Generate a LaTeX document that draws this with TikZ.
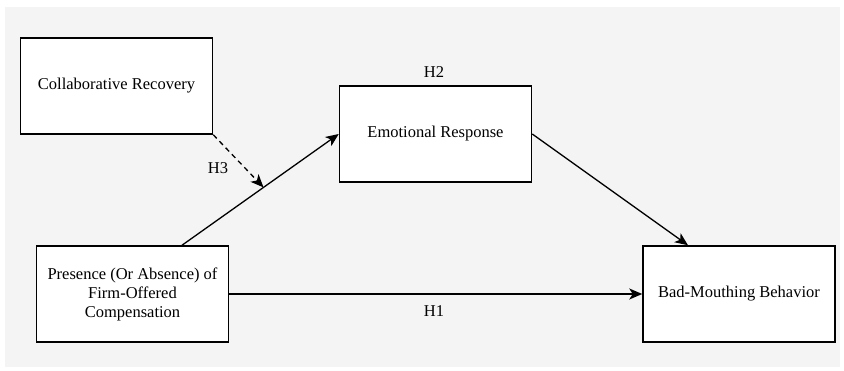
\documentclass[tikz,border=0pt]{standalone}
\usepackage{fontspec}
\setmainfont{Liberation Serif}
\usetikzlibrary{arrows.meta,positioning}
\definecolor{panelgray}{HTML}{F4F4F4}
\begin{document}
\begin{tikzpicture}[
    x=1pt,
    y=-1pt,
    font=\fontsize{16.5}{19}\selectfont,
    construct/.style={draw, line width=1.5pt, fill=white, minimum width=192pt, minimum height=96pt, align=center, inner sep=2pt},
    path/.style={line width=1.3pt, -{Stealth[length=13pt, width=11pt, inset=3.5pt]}},
    hyp/.style={inner sep=1pt}
]
\useasboundingbox (0,0) rectangle (844,371);
\fill[panelgray] (5,7) rectangle (840,367);

\node[construct] (recovery) at (116.5,86) {Collaborative Recovery};
\node[construct] (emotion) at (435.5,134) {Emotional Response};
\node[construct] (comp) at (132.5,294) {Presence (Or Absence) of\\Firm-Offered\\Compensation};
\node[construct] (bad) at (739,294) {Bad-Mouthing Behavior};

\draw[path] ([xshift=49.5pt]comp.north) -- coordinate[pos=0.52] (moderate) (emotion.west);
\draw[path] (emotion.east) -- ([xshift=-51pt]bad.north);
\draw[path] (comp.east) -- (bad.west);
\draw[path, dashed, dash pattern=on 5pt off 4pt] (recovery.south east) -- (moderate);

\node[hyp] (h2) at (434,72) {H2};
\node[hyp] (h3) at (218,168) {H3};
\node[hyp] (h1) at (434,311) {H1};
\end{tikzpicture}
\end{document}
